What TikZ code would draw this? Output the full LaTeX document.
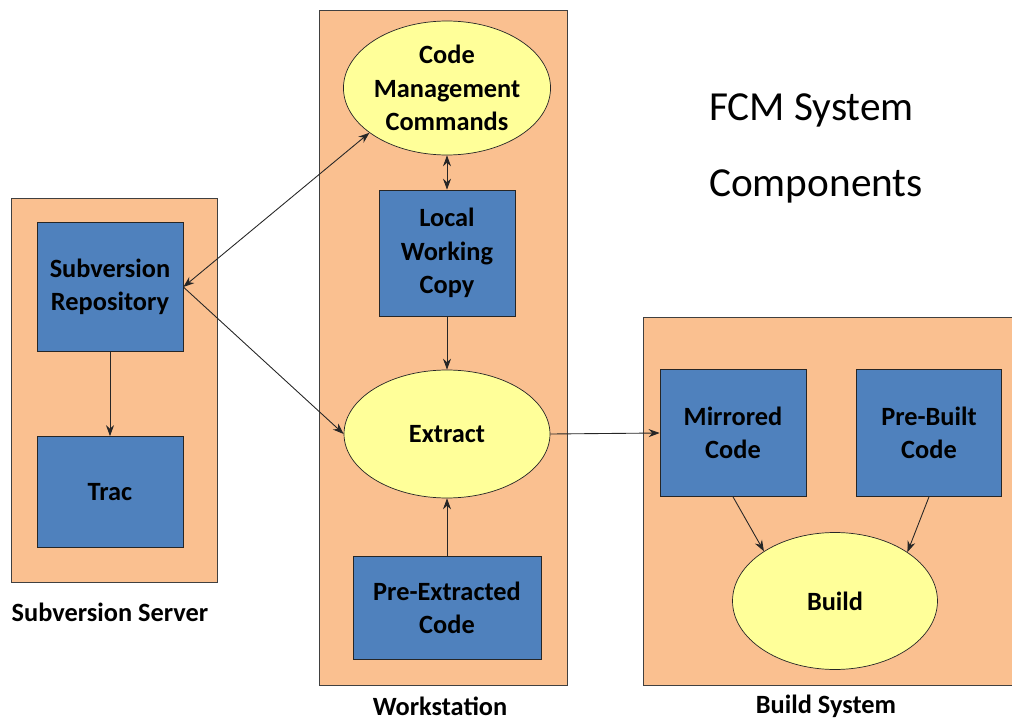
\documentclass[tikz,border=0pt]{standalone}
\usepackage{fontspec}
\setmainfont{Carlito}
\usetikzlibrary{arrows.meta,shapes.geometric}
\definecolor{panelfill}{HTML}{FAC090}
\definecolor{boxfill}{HTML}{4F81BD}
\definecolor{ovalfill}{HTML}{FFFF99}
\tikzset{
  panel/.style={draw=black!75,fill=panelfill,rectangle,inner sep=0pt},
  block/.style={draw=black!85,fill=boxfill,rectangle,align=center,inner sep=0pt,
    font=\bfseries\fontsize{15}{19}\selectfont},
  oval/.style={draw=black!85,fill=ovalfill,ellipse,align=center,inner sep=0pt,
    font=\bfseries\fontsize{15}{19}\selectfont},
  caption/.style={font=\bfseries\fontsize{15}{19}\selectfont},
  link/.style={-{Stealth[length=2.2mm,width=1.6mm]},black!85,line width=0.5pt},
  bilink/.style={{Stealth[length=2.2mm,width=1.6mm]}-{Stealth[length=2.2mm,width=1.6mm]},black!85,line width=0.5pt}
}
\begin{document}
\begin{tikzpicture}[x=0.02cm,y=-0.02cm]
    \useasboundingbox (0,0) rectangle (1012,723);

    % panels
    \node[panel,minimum width=4.12cm,minimum height=7.68cm] (server) at (114,390) {};
    \node[panel,minimum width=4.96cm,minimum height=13.5cm] (work) at (443,347.5) {};
    \node[panel,minimum width=7.42cm,minimum height=7.36cm] (buildsys) at (828.5,501) {};

    \node[caption] (serverlbl) at (110,612) {Subversion Server};
    \node[caption] (worklbl) at (440,706) {Workstation};
    \node[caption] (buildlbl) at (826,706) {Build System};

    % subversion server
    \node[block,minimum width=2.92cm,minimum height=2.58cm] (repo) at (110,287) {Subversion\\Repository};
    \node[block,minimum width=2.92cm,minimum height=2.22cm] (trac) at (110,492) {Trac};

    % workstation
    \node[oval,minimum width=4.12cm,minimum height=2.68cm] (cmc) at (447,88) {Code\\Management\\Commands};
    \node[block,minimum width=2.72cm,minimum height=2.52cm] (lwc) at (447,253) {Local\\Working\\Copy};
    \node[oval,minimum width=4.12cm,minimum height=2.56cm] (extract) at (447,434) {Extract};
    \node[block,minimum width=3.76cm,minimum height=2.06cm] (preext) at (447,608) {Pre-Extracted\\Code};

    % build system
    \node[block,minimum width=2.92cm,minimum height=2.54cm] (mirror) at (733,433) {Mirrored\\Code};
    \node[block,minimum width=2.90cm,minimum height=2.54cm] (prebuilt) at (929,433) {Pre-Built\\Code};
    \node[oval,minimum width=4.10cm,minimum height=2.74cm] (build) at (835,601) {Build};

    % title
    \node[anchor=west,font=\fontsize{23.5}{28}\selectfont] (title1) at (703,110) {FCM System};
    \node[anchor=west,font=\fontsize{23.5}{28}\selectfont] (title2) at (703,186) {Components};

    % connectors
    \draw[link] (repo) -- (trac);
    \draw[bilink] (repo.east) -- (cmc.-150);
    \draw[link] (repo.east) -- (extract.west);
    \draw[bilink] (cmc) -- (lwc);
    \draw[link] (lwc) -- (extract);
    \draw[link] (preext) -- (extract);
    \draw[link] (extract.east) -- (mirror.west);
    \draw[link] (mirror.south) -- (build.145);
    \draw[link] (prebuilt.south) -- (build.34);
\end{tikzpicture}
\end{document}
